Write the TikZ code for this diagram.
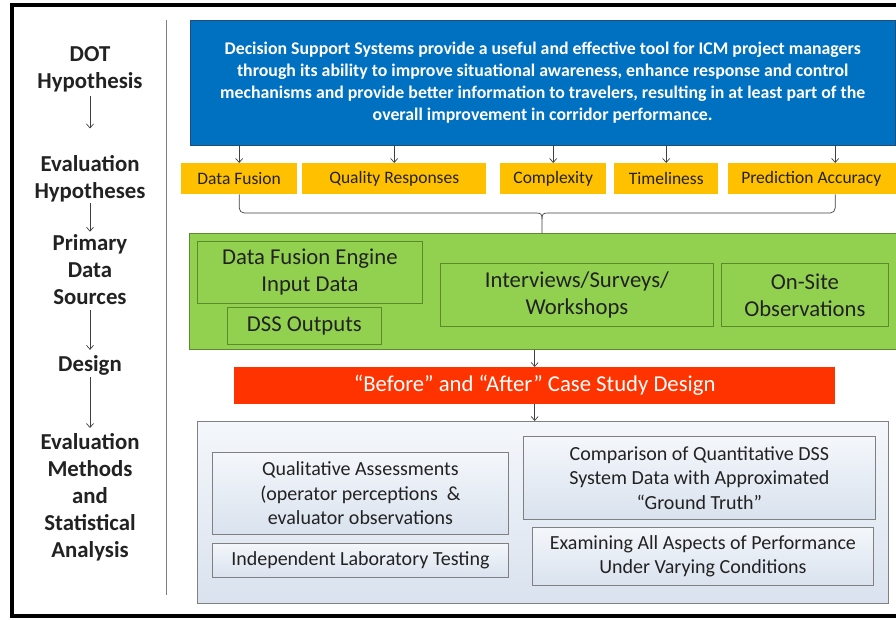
\documentclass[tikz,border=0pt]{standalone}
\usepackage{fontspec}
\setmainfont{Carlito}
\usetikzlibrary{arrows.meta,calc,positioning}
\definecolor{dssblue}{HTML}{0070C0}
\definecolor{blueline}{HTML}{1F4E79}
\definecolor{hypyel}{HTML}{FFC000}
\definecolor{srcgrn}{HTML}{92D050}
\definecolor{grnline}{HTML}{5E8A2E}
\definecolor{desred}{HTML}{FF3300}
\definecolor{methtop}{HTML}{F4F7FB}
\definecolor{methbot}{HTML}{D9E2EE}
\definecolor{boxline}{HTML}{808080}
\definecolor{txtcol}{HTML}{222222}
\definecolor{linecol}{HTML}{404040}

\begin{document}
\begin{tikzpicture}[x=1pt, y=1pt, >={Straight Barb[length=4pt,width=7pt]},
    lbl/.style={font=\fontsize{22.8}{27}\selectfont\bfseries, align=center, inner sep=0pt, text=txtcol},
    link/.style={->, draw=linecol, line width=0.7pt},
    ybox/.style={fill=hypyel, anchor=north west, minimum height=31pt, inner sep=0pt, font=\fontsize{17.5}{20}\selectfont, text=txtcol},
    gbox/.style={draw=grnline, line width=0.8pt, anchor=north west, align=center, inner sep=0pt, font=\fontsize{22.7}{27}\selectfont, text=txtcol},
    mbox/.style={draw=boxline, line width=0.8pt, top color=methtop, bottom color=methbot, anchor=north west, align=center, inner sep=0pt, font=\fontsize{20}{24.5}\selectfont, text=txtcol}]
  \useasboundingbox (0,0) rectangle (896,-619);
  \clip (0,0) rectangle (896,-619);
  \fill[white] (0,0) rectangle (896,-619);
  %\draw[step=50pt,gray,very thin] (0,0) grid (896,-619);
  \draw[line width=3.5pt] (950,-5) -- (12,-5) -- (12,-616) -- (950,-616);
  \draw[boxline, line width=1pt] (166,-20) -- (166,-595);

  % left column
  \node[lbl] (dot) at (90,-69) {DOT\\Hypothesis};
  \node[lbl] (evalhyp) at (90,-179) {Evaluation\\Hypotheses};
  \node[lbl] (primary) at (90,-270) {Primary\\Data\\Sources};
  \node[lbl] (design) at (90,-365) {Design};
  \node[lbl] (evalmeth) at (90,-497) {Evaluation\\Methods\\and\\Statistical\\Analysis};
  \draw[link, shorten <=4pt, shorten >=27pt] (dot) -- (evalhyp);
  \draw[link, shorten <=0pt, shorten >=3pt] (evalhyp) -- (primary);
  \draw[link, shorten <=5pt, shorten >=5pt] (primary) -- (design);
  \draw[link, shorten <=2pt, shorten >=5pt] (design) -- (evalmeth);

  % hypothesis
  \node[fill=dssblue, draw=blueline, anchor=north west, minimum width=705pt, minimum height=125pt,
        text=white, align=center, font=\fontsize{17.8}{22}\selectfont\bfseries] (dss) at (190,-20)
    {Decision Support Systems provide a useful and effective tool for ICM project managers\\
     through its ability to improve situational awareness, enhance response and control\\
     mechanisms and provide better information to travelers, resulting in at least part of the\\
     overall improvement in corridor performance.};

  \node[ybox, minimum width=116pt] (df) at (181,-163) {Data Fusion};
  \node[ybox, minimum width=184pt] (qr) at (302,-163) {Quality Responses};
  \node[ybox, minimum width=106pt] (cx) at (500,-163) {Complexity};
  \node[ybox, minimum width=104pt] (tl) at (614,-163) {Timeliness};
  \node[ybox, minimum width=214pt] (pa) at (728,-163) {\hspace*{-48pt}Prediction Accuracy};
  \foreach \b in {df,qr,cx,tl,pa}
    \draw[link] (\b.north |- dss.south) -- (\b.north);

  % data sources
  \node[fill=srcgrn, draw=grnline, line width=0.8pt, anchor=north west, minimum width=751pt, minimum height=116pt] (src) at (189,-233) {};
  \coordinate (tip) at (542,-233);
  \draw[linecol, line width=0.7pt, rounded corners=5pt] (df.south) |- ($(tip)+(-6,20)$);
  \draw[linecol, line width=0.7pt, rounded corners=5pt] (pa.south) |- ($(tip)+(6,20)$);
  \draw[linecol, line width=0.7pt] ($(tip)+(-6,20)$) .. controls ($(tip)+(-1,20)$) and ($(tip)+(0,19)$) .. ($(tip)+(0,14)$) -- (tip);
  \draw[linecol, line width=0.7pt] ($(tip)+(6,20)$) .. controls ($(tip)+(1,20)$) and ($(tip)+(0,19)$) .. ($(tip)+(0,14)$);

  \node[gbox, minimum width=225pt, minimum height=62pt] (fusion) at (197,-241) {Data Fusion Engine\\Input Data};
  \node[gbox, minimum width=154pt, minimum height=37pt] (dssout) at (227,-307) {DSS Outputs};
  \node[gbox, minimum width=273pt, minimum height=63pt] (intv) at (440,-263) {Interviews/Surveys/\\Workshops};
  \node[gbox, minimum width=167pt, minimum height=63pt] (onsite) at (721,-263) {On-Site\\Observations};

  % design
  \node[fill=desred, anchor=north west, minimum width=601pt, minimum height=37pt, inner sep=0pt,
        text=white, font=\fontsize{22.7}{27}\selectfont] (case) at (234,-367) {“Before” and “After” Case Study Design};
  \draw[link] (case.north |- src.south) -- (case.north);

  % methods
  \node[mbox, minimum width=691pt, minimum height=182pt] (meth) at (197,-421) {};
  \draw[link] (case.south) -- (case.south |- meth.north);
  \node[mbox, minimum width=296pt, minimum height=82pt] (qual) at (212,-452) {Qualitative Assessments\\(operator perceptions \ \&\\evaluator observations};
  \node[mbox, minimum width=296pt, minimum height=34pt] (indep) at (212,-543) {Independent Laboratory Testing};
  \node[mbox, minimum width=352pt, minimum height=83pt] (comp) at (523,-436) {Comparison of Quantitative DSS\\System Data with Approximated\\“Ground Truth”};
  \node[mbox, minimum width=341pt, minimum height=58pt] (exam) at (532,-527) {Examining All Aspects of Performance\\Under Varying Conditions};
\end{tikzpicture}
\end{document}
